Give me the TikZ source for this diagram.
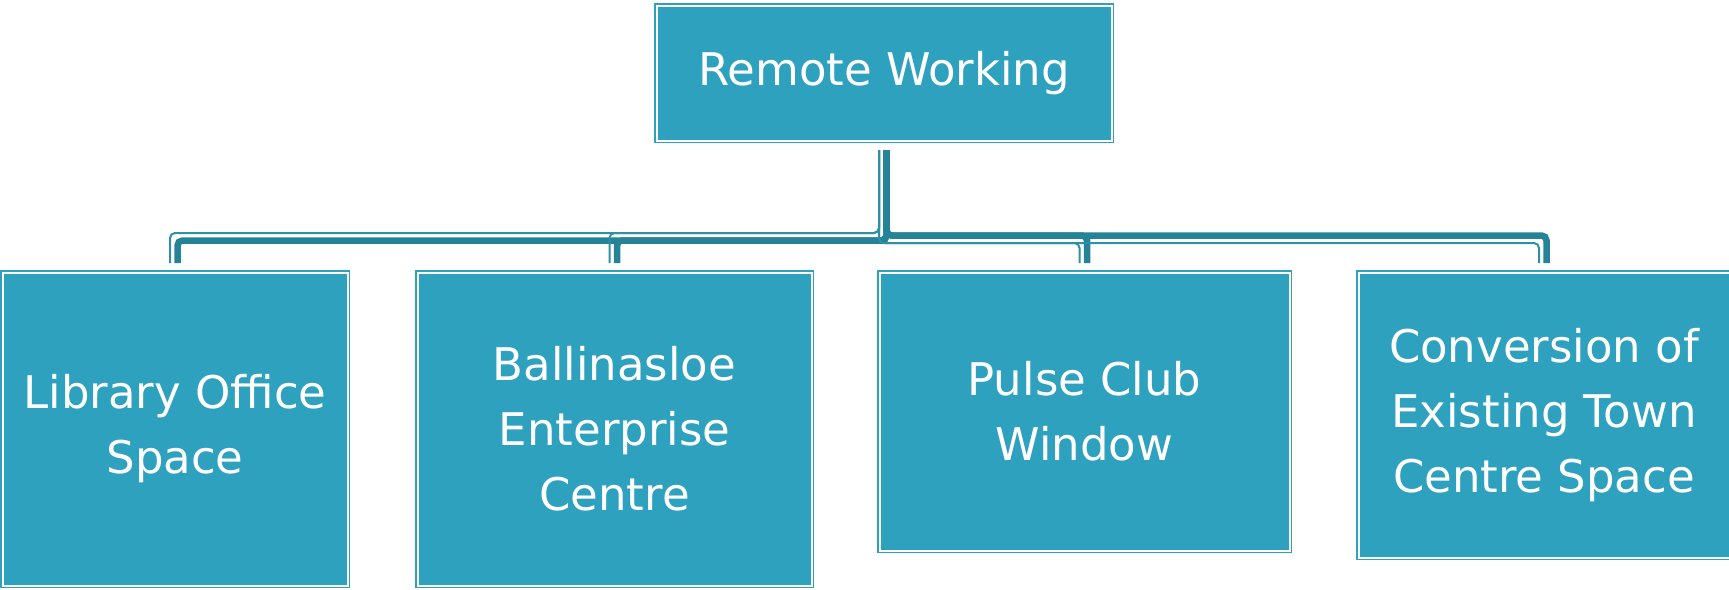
\documentclass[tikz,border=0pt]{standalone}
\usepackage{fontspec}
\setmainfont{DejaVu Sans}
\usetikzlibrary{calc}
\definecolor{boxfill}{HTML}{2DA1BE}
\definecolor{connthick}{HTML}{248397}
\definecolor{connthin}{HTML}{2E8FA5}
\tikzset{
  box/.style={draw=boxfill, double=white, double distance=2pt, line width=1.5pt,
    fill=boxfill, text=white, align=center, inner sep=0pt, outer sep=0pt,
    font=\fontsize{45}{65}\selectfont},
  thinline/.style={draw=connthin, line width=2pt, rounded corners=5pt},
  thickline/.style={draw=connthick, line width=6.5pt, rounded corners=5pt},
}
\begin{document}
\begin{tikzpicture}[x=1pt, y={(0pt,-1pt)}]
\useasboundingbox (0,0) rectangle (1729,589);
\node[box, minimum width=455pt, minimum height=135pt] (root) at (884,73) {Remote Working};
\node[box, minimum width=345pt, minimum height=313pt] (c1) at (175,429) {Library Office\\Space};
\node[box, minimum width=394pt, minimum height=313pt] (c2) at (614.5,429) {Ballinasloe\\Enterprise\\Centre};
\node[box, minimum width=410pt, minimum height=278pt] (c3) at (1084.5,411.5) {Pulse Club\\Window};
\node[box, minimum width=371pt, minimum height=285pt] (c4) at (1544,415) {Conversion of\\Existing Town\\Centre Space};
\coordinate (bus) at (0,238);
% connectors to the left children
\foreach \c in {c1,c2}{
  \draw[thinline] ($(root.south)+(-5,9.5)$) |- ($(\c.north |- bus)+(-5,-5)$) -- ($(\c.north)+(-5,-9.5)$);
  \draw[thickline] ($(root.south)+(2.5,9.5)$) |- ($(\c.north |- bus)+(2.5,2.5)$) -- ($(\c.north)+(2.5,-9.5)$);
}
% connectors to the right children
\foreach \c in {c3,c4}{
  \draw[thinline] ($(root.south)+(-5,9.5)$) |- ($(\c.north |- bus)+(-5,5)$) -- ($(\c.north)+(-5,-9.5)$);
  \draw[thickline] ($(root.south)+(2.5,9.5)$) |- ($(\c.north |- bus)+(2.5,-2.5)$) -- ($(\c.north)+(2.5,-9.5)$);
}
\end{tikzpicture}
\end{document}
